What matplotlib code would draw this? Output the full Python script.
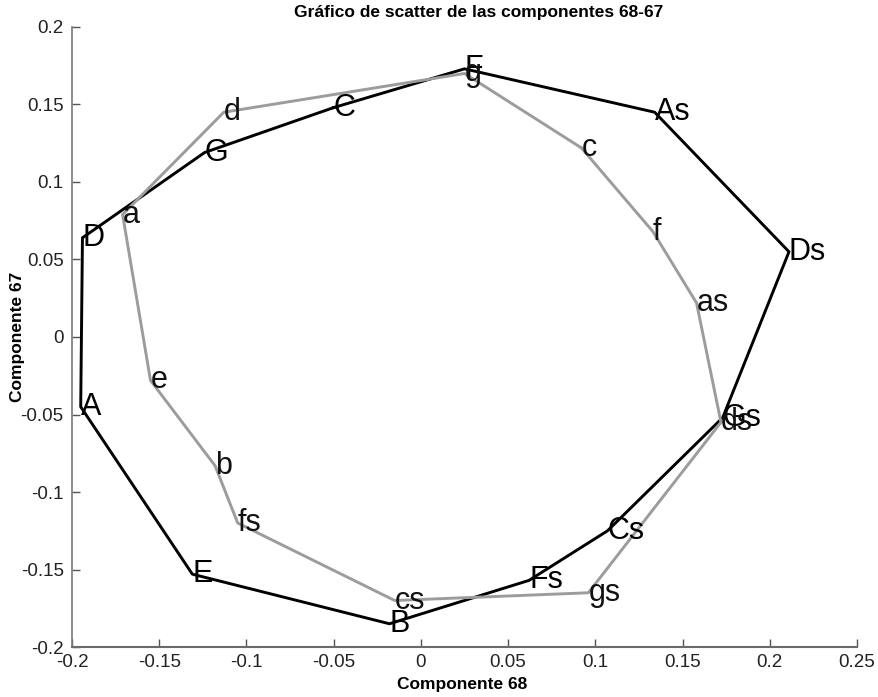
import matplotlib
matplotlib.use('Agg')
import matplotlib.pyplot as plt

plt.rcParams['font.family'] = ['Liberation Sans', 'DejaVu Sans']

# notas mayores (negro) y menores (gris), en orden del circulo de quintas
mayus_labels = ['C', 'G', 'D', 'A', 'E', 'B', 'Fs', 'Cs', 'Gs', 'Ds', 'As', 'F']
mayus_x = [-0.050, -0.124, -0.194, -0.195, -0.131, -0.018, 0.062, 0.107, 0.173, 0.211, 0.134, 0.025]
mayus_y = [0.148, 0.119, 0.064, -0.045, -0.153, -0.185, -0.157, -0.125, -0.052, 0.055, 0.145, 0.173]

minus_labels = ['c', 'g', 'd', 'a', 'e', 'b', 'fs', 'cs', 'gs', 'ds', 'as', 'f']
minus_x = [0.092, 0.025, -0.113, -0.171, -0.155, -0.118, -0.105, -0.015, 0.096, 0.172, 0.158, 0.133]
minus_y = [0.122, 0.170, 0.145, 0.079, -0.028, -0.083, -0.120, -0.170, -0.165, -0.055, 0.022, 0.068]

xticks = [-0.2, -0.15, -0.1, -0.05, 0, 0.05, 0.1, 0.15, 0.2, 0.25]
yticks = [-0.2, -0.15, -0.1, -0.05, 0, 0.05, 0.1, 0.15, 0.2]

fig = plt.figure(figsize=(8.79, 6.97), dpi=100)
ax = fig.add_axes([0.0819, 0.0717, 0.8931, 0.8896])

# poligonos cerrados
ax.plot(mayus_x + mayus_x[:1], mayus_y + mayus_y[:1], color='black', lw=2.1, zorder=2)
ax.plot(minus_x + minus_x[:1], minus_y + minus_y[:1], color='#9c9c9c', lw=2.1, zorder=3)

for lab, x, y in zip(mayus_labels, mayus_x, mayus_y):
    ax.text(x, y, lab, fontsize=22, ha='left', va='center', color='black', zorder=4)
for lab, x, y in zip(minus_labels, minus_x, minus_y):
    ax.text(x, y, lab, fontsize=22, ha='left', va='center', color='#111111', zorder=4)

ax.set_xlim(-0.2, 0.25)
ax.set_ylim(-0.2, 0.2)
ax.set_xticks(xticks)
ax.set_yticks(yticks)
ax.set_xticklabels([('%g' % t) for t in xticks])
ax.set_yticklabels([('%g' % t) for t in yticks])

ax.spines['top'].set_visible(False)
ax.spines['right'].set_visible(False)
ax.spines['left'].set_color('#7a7a7a')
ax.spines['bottom'].set_color('#6a6a6a')
ax.spines['left'].set_linewidth(1.2)
ax.spines['bottom'].set_linewidth(1.5)
ax.tick_params(direction='in', length=6, width=1, colors='#555555', labelsize=13.5,
               labelcolor='#222222')
ax.tick_params(axis='x', pad=5)
ax.tick_params(axis='y', pad=6)

ax.set_title('Gráfico de scatter de las componentes 68-67', fontsize=12.5, fontweight='bold',
             pad=7, x=0.518)
ax.set_xlabel('Componente 68', fontsize=12.5, fontweight='bold', va='center')
ax.set_ylabel('Componente 67', fontsize=12.5, fontweight='bold', va='center')
ax.xaxis.set_label_coords(0.497, -0.061)
ax.yaxis.set_label_coords(-0.069, 0.5)

fig.savefig('out.png', dpi=100)
